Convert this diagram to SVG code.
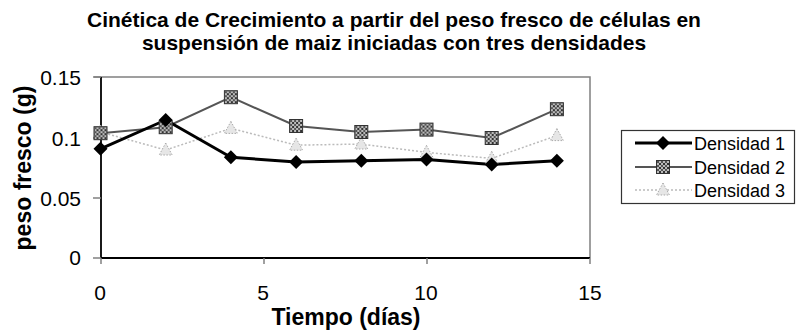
<svg xmlns="http://www.w3.org/2000/svg" width="796" height="331" viewBox="0 0 796 331">
<defs>
<style>
.title{font-family:"Liberation Sans",Arial,sans-serif;font-weight:bold;font-size:21px;fill:#000;text-anchor:middle}
.axt{font-family:"Liberation Sans",Arial,sans-serif;font-weight:bold;font-size:23px;fill:#000;text-anchor:middle}
.tick{font-family:"Liberation Sans",Arial,sans-serif;font-size:21px;fill:#000}
.leg{font-family:"Liberation Sans",Arial,sans-serif;font-size:18px;fill:#000}
.frame{fill:none;stroke:#808080;stroke-width:1.5}
.axis{stroke:#000;stroke-width:1.8;fill:none}
.tk{stroke:#808080;stroke-width:1.5}
.s1{fill:none;stroke:#000;stroke-width:3;stroke-linejoin:round}
.s2{fill:none;stroke:#555;stroke-width:2}
.s3{fill:none;stroke:#bbb;stroke-width:1.5;stroke-dasharray:2 2}
.m1{fill:#000}
.m2{fill:url(#hatch);stroke:#333;stroke-width:1}
.m3{fill:#e6e6e6;stroke:#aaa;stroke-width:1;stroke-dasharray:1.5 1.5}
</style>
<pattern id="hatch" width="4" height="4" patternUnits="userSpaceOnUse">
<rect width="4" height="4" fill="#bbb"/>
<rect width="2" height="2" fill="#333"/>
<rect x="2" y="2" width="2" height="2" fill="#555"/>
</pattern>
<path id="dia" d="M0,-7 L7,0 L0,7 L-7,0 Z"/>
<rect id="sq" x="-6.5" y="-6.5" width="13" height="13"/>
<path id="tri" d="M0,-7 L6.5,5 L-6.5,5 Z"/>
</defs>
<rect width="796" height="331" fill="#fff"/>

<g id="title">
<text class="title" x="394" y="27">Cinética de Crecimiento a partir del peso fresco de células en</text>
<text class="title" x="394" y="50">suspensión de maiz iniciadas con tres densidades</text>
</g>

<g id="plot-frame">
<polyline class="frame" points="94,77 590,77 590,258"/>
<line class="axis" x1="101" y1="77" x2="101" y2="258"/>
<line class="axis" x1="101" y1="258" x2="590" y2="258" stroke="#222"/>
<line class="tk" x1="93" y1="77" x2="101" y2="77"/>
<line class="tk" x1="93" y1="138" x2="101" y2="138"/>
<line class="tk" x1="93" y1="198" x2="101" y2="198"/>
<line class="tk" x1="93" y1="258" x2="101" y2="258"/>
<line class="tk" x1="101" y1="258" x2="101" y2="264"/>
<line class="tk" x1="264" y1="258" x2="264" y2="264"/>
<line class="tk" x1="427" y1="258" x2="427" y2="264"/>
<line class="tk" x1="590" y1="258" x2="590" y2="264"/>
</g>

<g id="y-axis">
<text class="tick" x="81" y="85" text-anchor="end">0.15</text>
<text class="tick" x="81" y="146" text-anchor="end">0.1</text>
<text class="tick" x="81" y="206" text-anchor="end">0.05</text>
<text class="tick" x="81" y="265" text-anchor="end">0</text>
<text class="axt" transform="translate(31,168) rotate(-90)">peso fresco (g)</text>
</g>

<g id="x-axis">
<text class="tick" x="100" y="300" text-anchor="middle">0</text>
<text class="tick" x="263" y="300" text-anchor="middle">5</text>
<text class="tick" x="426" y="300" text-anchor="middle">10</text>
<text class="tick" x="590" y="300" text-anchor="middle">15</text>
<text class="axt" x="346" y="325">Tiempo (días)</text>
</g>

<g id="connectors">
<polyline class="s3" points="100.5,132 165.7,150 230.9,128.4 296.1,145.2 361.3,144 426.5,152.4 491.7,158.4 556.9,135.6"/>
<polyline class="s2" points="100.5,133.2 165.7,127.2 230.9,97.2 296.1,126 361.3,132 426.5,129.6 491.7,138 556.9,109.2"/>
<polyline class="s1" points="100.5,148.8 165.7,120 230.9,157.2 296.1,162 361.3,160.8 426.5,159.6 491.7,164.4 556.9,160.8"/>
</g>

<g id="series-3">
<use href="#tri" class="m3" x="100.5" y="132"/>
<use href="#tri" class="m3" x="165.7" y="150"/>
<use href="#tri" class="m3" x="230.9" y="128.4"/>
<use href="#tri" class="m3" x="296.1" y="145.2"/>
<use href="#tri" class="m3" x="361.3" y="144"/>
<use href="#tri" class="m3" x="426.5" y="152.4"/>
<use href="#tri" class="m3" x="491.7" y="158.4"/>
<use href="#tri" class="m3" x="556.9" y="135.6"/>
</g>
<g id="series-2">
<use href="#sq" class="m2" x="100.5" y="133.2"/>
<use href="#sq" class="m2" x="165.7" y="127.2"/>
<use href="#sq" class="m2" x="230.9" y="97.2"/>
<use href="#sq" class="m2" x="296.1" y="126"/>
<use href="#sq" class="m2" x="361.3" y="132"/>
<use href="#sq" class="m2" x="426.5" y="129.6"/>
<use href="#sq" class="m2" x="491.7" y="138"/>
<use href="#sq" class="m2" x="556.9" y="109.2"/>
</g>
<g id="series-1">
<use href="#dia" class="m1" x="100.5" y="148.8"/>
<use href="#dia" class="m1" x="165.7" y="120"/>
<use href="#dia" class="m1" x="230.9" y="157.2"/>
<use href="#dia" class="m1" x="296.1" y="162"/>
<use href="#dia" class="m1" x="361.3" y="160.8"/>
<use href="#dia" class="m1" x="426.5" y="159.6"/>
<use href="#dia" class="m1" x="491.7" y="164.4"/>
<use href="#dia" class="m1" x="556.9" y="160.8"/>
</g>

<g id="legend">
<rect x="621.5" y="130.5" width="173" height="73" fill="#fff" stroke="#333" stroke-width="1.2"/>
<line class="s1" x1="635" y1="143" x2="692" y2="143"/>
<use href="#dia" class="m1" x="663" y="143"/>
<text class="leg" x="694" y="149.5">Densidad 1</text>
<line class="s2" x1="635" y1="167" x2="692" y2="167"/>
<use href="#sq" class="m2" x="663" y="167"/>
<text class="leg" x="694" y="173.5">Densidad 2</text>
<line class="s3" x1="635" y1="190" x2="692" y2="190"/>
<use href="#tri" class="m3" x="663" y="190"/>
<text class="leg" x="694" y="196.5">Densidad 3</text>
</g>
</svg>
